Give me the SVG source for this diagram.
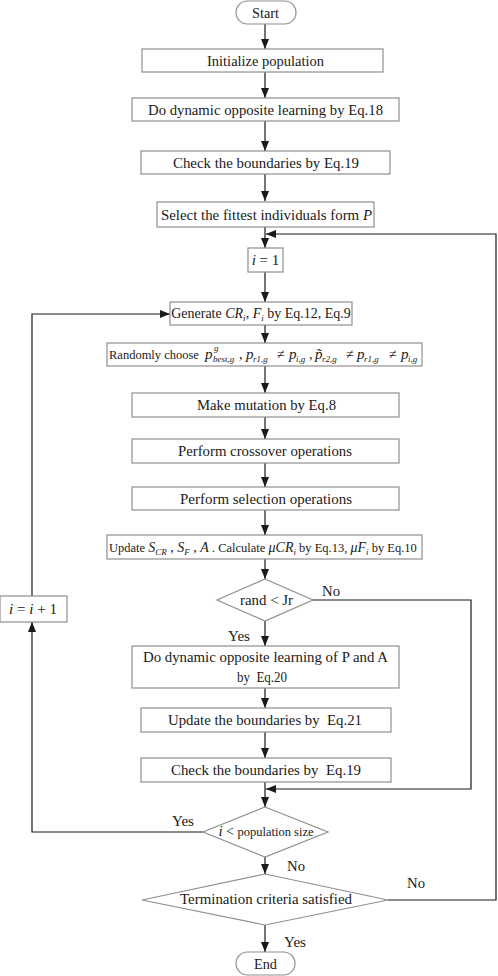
<svg xmlns="http://www.w3.org/2000/svg" width="498" height="976" viewBox="0 0 498 976">
<defs>
<marker id="ah" markerUnits="userSpaceOnUse" markerWidth="10" markerHeight="8" refX="10" refY="4" orient="auto">
<path d="M0,0 L10,4 L0,8 z" fill="#1a1a1a"/>
</marker>
<style>
.box{fill:#fff;stroke:#8f8f8f;stroke-width:1.2}
text{font-family:'Liberation Serif','Times New Roman',Tinos,'DejaVu Serif',serif;font-size:14px;fill:#1a1a1a}
.m{font-size:15px}
.s{font-size:12.5px}
.it{font-style:italic}
.sub{font-size:9px;font-style:italic}
.c{text-anchor:middle}
.ln{fill:none;stroke:#1a1a1a;stroke-width:1.2}
</style>
</defs>
<rect width="498" height="976" fill="#fff"/>
<g id="connectors">
<line class="ln" x1="265" y1="24" x2="265" y2="49" marker-end="url(#ah)"/>
<line class="ln" x1="265" y1="72" x2="265" y2="98" marker-end="url(#ah)"/>
<line class="ln" x1="265" y1="121" x2="265" y2="151" marker-end="url(#ah)"/>
<line class="ln" x1="265" y1="174" x2="265" y2="201" marker-end="url(#ah)"/>
<line class="ln" x1="265" y1="227" x2="265" y2="248" marker-end="url(#ah)"/>
<line class="ln" x1="265" y1="272" x2="265" y2="302" marker-end="url(#ah)"/>
<line class="ln" x1="265" y1="325" x2="265" y2="343" marker-end="url(#ah)"/>
<line class="ln" x1="265" y1="366" x2="265" y2="393" marker-end="url(#ah)"/>
<line class="ln" x1="265" y1="417" x2="265" y2="439" marker-end="url(#ah)"/>
<line class="ln" x1="265" y1="463" x2="265" y2="487" marker-end="url(#ah)"/>
<line class="ln" x1="265" y1="510" x2="265" y2="535" marker-end="url(#ah)"/>
<line class="ln" x1="265" y1="559" x2="265" y2="579" marker-end="url(#ah)"/>
<line class="ln" x1="265" y1="621" x2="265" y2="646" marker-end="url(#ah)"/>
<line class="ln" x1="265" y1="688" x2="265" y2="708" marker-end="url(#ah)"/>
<line class="ln" x1="265" y1="732" x2="265" y2="758" marker-end="url(#ah)"/>
<line class="ln" x1="265" y1="782" x2="265" y2="807" marker-end="url(#ah)"/>
<line class="ln" x1="265" y1="857" x2="265" y2="874" marker-end="url(#ah)"/>
<line class="ln" x1="265" y1="925" x2="265" y2="952" marker-end="url(#ah)"/>
<polyline class="ln" points="313,600 471,600 471,789 266,789" marker-end="url(#ah)"/>
<polyline class="ln" points="203,832 32,832 32,622" marker-end="url(#ah)"/>
<polyline class="ln" points="32,596 32,314 170,314" marker-end="url(#ah)"/>
<polyline class="ln" points="388,900 496,900 496,234 266,234" marker-end="url(#ah)"/>
<text class="m" x="322" y="596" textLength="18" lengthAdjust="spacingAndGlyphs">No</text>
<text class="m" x="228" y="641" textLength="22" lengthAdjust="spacingAndGlyphs">Yes</text>
<text class="m" x="172" y="826" textLength="22" lengthAdjust="spacingAndGlyphs">Yes</text>
<text class="m" x="287" y="871" textLength="18" lengthAdjust="spacingAndGlyphs">No</text>
<text class="m" x="407" y="888" textLength="18" lengthAdjust="spacingAndGlyphs">No</text>
<text class="m" x="284" y="947" textLength="22" lengthAdjust="spacingAndGlyphs">Yes</text>
</g>
<g id="start">
<rect class="box" x="236" y="1" width="60" height="23" rx="11.5"/>
<text class="c m" x="265.5" y="17.5" textLength="27" lengthAdjust="spacingAndGlyphs">Start</text>
</g>
<g id="init">
<rect class="box" x="142" y="49" width="241" height="23"/>
<text class="c m" x="265.5" y="65.5" textLength="117" lengthAdjust="spacingAndGlyphs">Initialize population</text>
</g>
<g id="dol1">
<rect class="box" x="132" y="98" width="267" height="23"/>
<text class="c m" x="265.5" y="114.5" textLength="235" lengthAdjust="spacingAndGlyphs">Do dynamic opposite learning by Eq.18</text>
</g>
<g id="check1">
<rect class="box" x="141" y="151" width="249" height="23"/>
<text class="c m" x="266" y="167.5" textLength="186" lengthAdjust="spacingAndGlyphs">Check the boundaries by Eq.19</text>
</g>
<g id="select">
<rect class="box" x="157" y="202" width="217" height="25"/>
<text class="c m" x="266.5" y="219.5" textLength="211" lengthAdjust="spacingAndGlyphs">Select the fittest individuals form <tspan class="it">P</tspan></text>
</g>
<g id="i1">
<rect class="box" x="248" y="248" width="35" height="24"/>
<text class="c m" x="265.5" y="265"><tspan class="it">i</tspan> = 1</text>
</g>
<g id="generate">
<rect class="box" x="170" y="302" width="182" height="23"/>
<text class="c" x="261" y="318">Generate <tspan class="it">CR</tspan><tspan class="sub" dy="3">i</tspan><tspan dy="-3">, </tspan><tspan class="it">F</tspan><tspan class="sub" dy="3">i</tspan><tspan dy="-3"> by Eq.12, Eq.9</tspan></text>
</g>
<g id="randomly">
<rect class="box" x="107" y="343" width="315" height="23"/>
<text y="359"><tspan x="109" class="s">Randomly choose</tspan><tspan x="205" class="it m">p</tspan><tspan x="214" dy="-8" class="sub">g</tspan><tspan x="213" dy="11" class="sub">best,g</tspan><tspan x="239" dy="-3">,</tspan><tspan x="246" class="it m">p</tspan><tspan x="253" dy="3" class="sub">r1,g</tspan><tspan x="277" dy="-3">≠</tspan><tspan x="289" class="it m">p</tspan><tspan x="296" dy="3" class="sub">i,g</tspan><tspan x="309" dy="-3">,</tspan><tspan x="315" class="it m">p̃</tspan><tspan x="322" dy="3" class="sub">r2,g</tspan><tspan x="346" dy="-3">≠</tspan><tspan x="357" class="it m">p</tspan><tspan x="364" dy="3" class="sub">r1,g</tspan><tspan x="389" dy="-3">≠</tspan><tspan x="401" class="it m">p</tspan><tspan x="408" dy="3" class="sub">i,g</tspan></text>
</g>
<g id="mutation">
<rect class="box" x="132" y="393" width="267" height="24"/>
<text class="c m" x="266.5" y="410" textLength="139" lengthAdjust="spacingAndGlyphs">Make mutation by Eq.8</text>
</g>
<g id="crossover">
<rect class="box" x="132" y="439" width="267" height="24"/>
<text class="c m" x="265" y="456" textLength="174" lengthAdjust="spacingAndGlyphs">Perform crossover operations</text>
</g>
<g id="selection">
<rect class="box" x="132" y="487" width="267" height="23"/>
<text class="c m" x="266" y="503.5" textLength="172" lengthAdjust="spacingAndGlyphs">Perform selection operations</text>
</g>
<g id="update">
<rect class="box" x="107" y="535" width="315" height="24"/>
<text x="109" y="552"><tspan class="s">Update </tspan><tspan class="it">S</tspan><tspan class="sub" dy="3">CR</tspan><tspan dy="-3"> , </tspan><tspan class="it">S</tspan><tspan class="sub" dy="3">F</tspan><tspan dy="-3"> , </tspan><tspan class="it">A</tspan><tspan class="s"> . Calculate </tspan><tspan class="it">μCR</tspan><tspan class="sub" dy="3">i</tspan><tspan dy="-3" class="s"> by Eq.13, </tspan><tspan class="it">μF</tspan><tspan class="sub" dy="3">i</tspan><tspan dy="-3" class="s"> by Eq.10</tspan></text>
</g>
<g id="randjr">
<polygon class="box" points="265,579 313,600 265,621 217,600"/>
<text class="c m" x="266.5" y="605" textLength="53" lengthAdjust="spacingAndGlyphs">rand &lt; Jr</text>
</g>
<g id="dol2">
<rect class="box" x="132" y="646" width="267" height="42"/>
<text class="c m" x="265.5" y="662" textLength="245" lengthAdjust="spacingAndGlyphs">Do dynamic opposite learning of P and A</text>
<text class="c m" x="262" y="682" textLength="50" lengthAdjust="spacingAndGlyphs">by&#160; Eq.20</text>
</g>
<g id="updb">
<rect class="box" x="141" y="708" width="250" height="24"/>
<text class="c m" x="265" y="725" textLength="194" lengthAdjust="spacingAndGlyphs">Update the boundaries by&#160; Eq.21</text>
</g>
<g id="check2">
<rect class="box" x="141" y="758" width="250" height="24"/>
<text class="c m" x="266" y="775" textLength="190" lengthAdjust="spacingAndGlyphs">Check the boundaries by&#160; Eq.19</text>
</g>
<g id="ipop">
<polygon class="box" points="265,807 328,832 265,857 203,832"/>
<text class="c" x="266" y="836"><tspan class="it m">i</tspan> &lt; <tspan class="s">population size</tspan></text>
</g>
<g id="iinc">
<rect class="box" x="0" y="596" width="67" height="26"/>
<text class="c m" x="33" y="614"><tspan class="it">i</tspan> = <tspan class="it">i</tspan> + 1</text>
</g>
<g id="term">
<polygon class="box" points="265,874 388,900 265,925 142,900"/>
<text class="c m" x="266" y="904" textLength="172" lengthAdjust="spacingAndGlyphs">Termination criteria satisfied</text>
</g>
<g id="end">
<rect class="box" x="236" y="952" width="59" height="23" rx="11.5"/>
<text class="c m" x="265.5" y="968.5" textLength="23" lengthAdjust="spacingAndGlyphs">End</text>
</g>
</svg>
